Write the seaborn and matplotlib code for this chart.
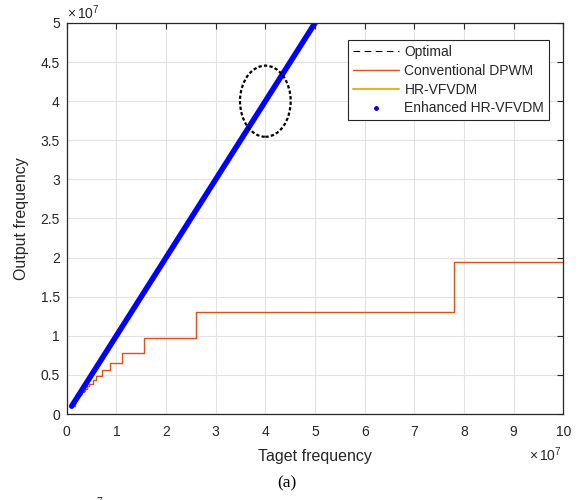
import numpy as np
import pandas as pd
import matplotlib
matplotlib.use("Agg")
import matplotlib.pyplot as plt
from matplotlib.patches import Ellipse
from matplotlib.lines import Line2D
import seaborn as sns

# ---------------- data (frequencies in MHz) ----------------
ideal_target_MHz = [1.0, 100.0]
ideal_output_MHz = [1.0, 100.0]

hr_target_MHz = [1.0, 100.0]
hr_output_MHz = [1.0, 100.0]

enh_target_MHz = [1.0, 100.0]
enh_output_MHz = [1.0, 100.0]

dpwm_target_MHz = [1.0, 1.59, 1.66, 1.73, 1.81, 1.90, 2.00, 2.11, 2.23, 2.36, 2.52,
                   2.69, 2.89, 3.12, 3.39, 3.71, 4.11, 4.59, 5.2, 6.0, 7.09, 8.67,
                   11.14, 15.6, 26.0, 78.0, 100.0]
dpwm_output_MHz = [1.0, 1.5, 1.56, 1.63, 1.70, 1.77, 1.86, 1.95, 2.05, 2.17, 2.29,
                   2.44, 2.6, 2.79, 3.0, 3.25, 3.55, 3.9, 4.33, 4.88, 5.57, 6.5,
                   7.8, 9.75, 13.0, 19.5, 19.5]

xtick_vals = [0, 1, 2, 3, 4, 5, 6, 7, 8, 9, 10]
xtick_labels = ["0", "1", "2", "3", "4", "5", "6", "7", "8", "9", "10"]
ytick_vals = [0, 0.5, 1, 1.5, 2, 2.5, 3, 3.5, 4, 4.5, 5]
ytick_labels = ["0", "0.5", "1", "1.5", "2", "2.5", "3", "3.5", "4", "4.5", "5"]
series_names = ["Optimal", "Conventional DPWM", "HR-VFVDM", "Enhanced HR-VFVDM"]

SCALE = 1e6  # MHz -> Hz
UNIT = 1e7   # axis unit

# ---------------- style ----------------
sns.set_theme(style="white")
plt.rcParams["font.family"] = ["Liberation Sans", "DejaVu Sans"]
plt.rcParams["mathtext.fontset"] = "custom"
plt.rcParams["mathtext.rm"] = "Liberation Sans"
plt.rcParams["mathtext.it"] = "Liberation Sans:italic"

fig = plt.figure(figsize=(5.86, 5.0), dpi=100)
ax = fig.add_axes([66.7 / 586, 1 - 414 / 500, (563.3 - 66.7) / 586, (414 - 23) / 500])

dk = "#262626"
blue = "#0000FF"
orange = "#D95319"
yellow = "#EDB120"

df_ideal = pd.DataFrame({"x": np.array(ideal_target_MHz) * SCALE, "y": np.array(ideal_output_MHz) * SCALE})
df_dpwm = pd.DataFrame({"x": np.array(dpwm_target_MHz) * SCALE, "y": np.array(dpwm_output_MHz) * SCALE})
df_hr = pd.DataFrame({"x": np.array(hr_target_MHz) * SCALE, "y": np.array(hr_output_MHz) * SCALE})
df_enh = pd.DataFrame({"x": np.array(enh_target_MHz) * SCALE, "y": np.array(enh_output_MHz) * SCALE})

sns.lineplot(data=df_ideal, x="x", y="y", ax=ax, color="black", lw=0.8,
             dashes=False, linestyle=(0, (6, 4)), estimator=None, sort=False)
sns.lineplot(data=df_dpwm, x="x", y="y", ax=ax, color=orange, lw=1.0,
             drawstyle="steps-post", estimator=None, sort=False)
sns.lineplot(data=df_hr, x="x", y="y", ax=ax, color=yellow, lw=1.0,
             estimator=None, sort=False)
sns.lineplot(data=df_enh, x="x", y="y", ax=ax, color=blue, lw=4.0,
             solid_capstyle="round", estimator=None, sort=False)

# highlight ellipse
ax.add_patch(Ellipse((4.0e7, 4.0e7), 1.02e7, 0.91e7, fill=False, edgecolor="black",
                     lw=1.6, linestyle=(0, (1.5, 1.0)), zorder=5))

ax.set_xlim(0, 10 * UNIT)
ax.set_ylim(0, 5 * UNIT)
ax.set_xticks(np.array(xtick_vals) * UNIT)
ax.set_xticklabels(xtick_labels)
ax.set_yticks(np.array(ytick_vals) * UNIT)
ax.set_yticklabels(ytick_labels)

ax.grid(True, color="#e3e3e3", lw=0.8)
ax.set_axisbelow(True)
for s in ax.spines.values():
    s.set_color(dk)
    s.set_linewidth(0.9)
    s.set_visible(True)

ax.tick_params(axis="both", direction="in", top=True, right=True, length=4,
               width=0.8, color=dk, labelcolor=dk, labelsize=10)
ax.tick_params(axis="x", pad=8)
ax.tick_params(axis="y", pad=5)

ax.set_xlabel("Taget frequency", fontsize=11.5, color=dk, va="center")
ax.xaxis.set_label_coords(0.5, (414 - 456) / 391)
ax.set_ylabel("Output frequency", fontsize=11.5, color=dk, va="center")
ax.yaxis.set_label_coords((22 - 66.7) / 496.6, 0.5)

# exponent labels
fig.text(562 / 586, 1 - 461 / 500, r"$\times\,10^{7}$", ha="right", va="baseline",
         fontsize=10, color=dk)
fig.text(67 / 586, 1 - 19 / 500, r"$\times\,10^{7}$", ha="left", va="baseline",
         fontsize=10, color=dk)

# caption
fig.text(287 / 586, 1 - 483 / 500, "(a)", ha="center", va="center", fontsize=12.5,
         family=["Liberation Serif", "DejaVu Serif"], color="black")
fig.text(99 / 586, 1 - 496.5 / 500, "7", ha="center", va="top", fontsize=8,
         family=["Liberation Serif", "DejaVu Serif"], color="black")

handles = [
    Line2D([], [], color="black", lw=0.8, linestyle=(0, (6, 4))),
    Line2D([], [], color=orange, lw=1.0),
    Line2D([], [], color=yellow, lw=1.5),
    Line2D([], [], color=blue, lw=0, marker="o", markersize=2.5),
]
leg = ax.legend(handles, series_names, loc="upper right",
                bbox_to_anchor=((549 - 66.7) / 496.6, (414 - 40) / 391),
                fontsize=10, frameon=True, fancybox=False, framealpha=1,
                edgecolor=dk, handlelength=3.3, handletextpad=0.4,
                labelspacing=0.35, borderpad=0.35, borderaxespad=0)
leg.get_frame().set_linewidth(0.8)

fig.savefig("out.png", dpi=100)
